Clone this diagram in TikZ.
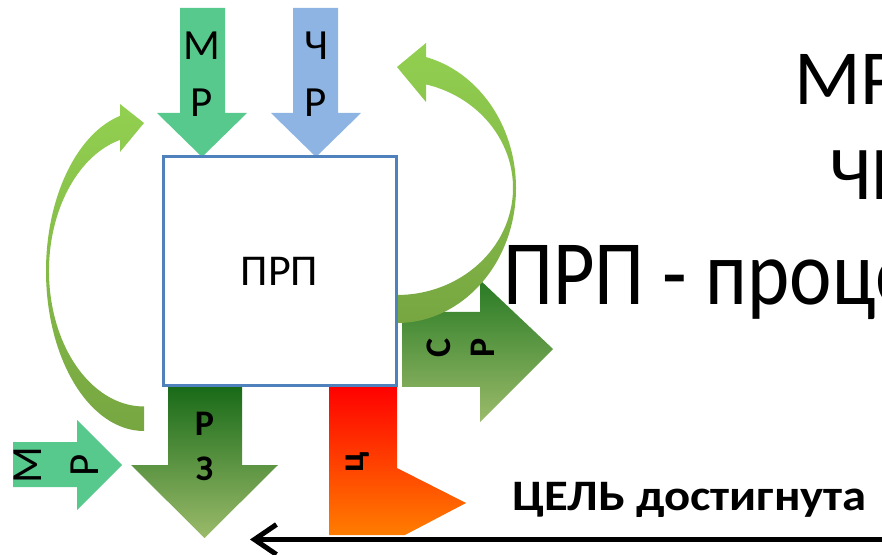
\documentclass[tikz,border=0pt]{standalone}
\usepackage{fontspec}
\setmainfont{Carlito}
\usetikzlibrary{arrows.meta}

\definecolor{mrgreen}{RGB}{87,201,141}
\definecolor{chblue}{RGB}{142,180,227}
\definecolor{boxblue}{RGB}{79,129,189}
\definecolor{curvelight}{RGB}{146,208,80}
\definecolor{curvedark}{RGB}{119,166,65}
\definecolor{rzdark}{RGB}{24,106,24}
\definecolor{rzlight}{RGB}{155,187,106}
\definecolor{srdark}{RGB}{40,122,36}
\definecolor{crred}{RGB}{255,0,0}
\definecolor{crorange}{RGB}{255,125,0}

\tikzset{
  lbl/.style={inner sep=0pt, align=center, font=\fontsize{43}{57}\selectfont},
  boldlbl/.style={inner sep=0pt, align=center, font=\bfseries\fontsize{36}{45}\selectfont},
  prpbox/.style={draw=boxblue, line width=3pt, minimum width=233pt, minimum height=229pt, inner sep=0pt, font=\fontsize{44}{50}\selectfont},
  bigtext/.style={anchor=base west, inner sep=0pt},
  goalline/.style={line width=5pt, -{Straight Barb[length=22pt,width=30pt]}},
}

\begin{document}
\begin{tikzpicture}[x=1pt,y=1pt]
\useasboundingbox (0,0) rectangle (882,554);
\clip (0,0) rectangle (882,554);
% MP, freccia in alto
\fill[mrgreen] (180,546) -- (225,546) -- (225,441) -- (247,441) -- (202,397) -- (157,441) -- (180,441) -- cycle;
\node[lbl] (mrtop) at (202,480) {М\\Р};
% ЧР, freccia in alto
\fill[chblue] (293,546) -- (338,546) -- (338,441) -- (361,441) -- (316,397) -- (271,441) -- (293,441) -- cycle;
\node[lbl] (chrtop) at (316,480) {Ч\\Р};
% freccia curva sinistra
\coordinate (lc) at (144,283);
\shade[top color=curvelight, bottom color=curvedark]
  ([shift={(lc)}]270:98 and 160) arc[start angle=270, end angle=103, x radius=98, y radius=160]
  -- ([shift={(lc)}]103:95 and 135.5) arc[start angle=103, end angle=270, x radius=95, y radius=135.5] -- cycle
  (120,450) -- (144,431) -- (120,402) -- cycle;
% СР, freccia a destra
\shade[top color=srdark, bottom color=rzlight] (402,242) -- (480,242) -- (480,274) -- (553,205) -- (480,132) -- (480,167) -- (402,167) -- cycle;
\node[boldlbl, rotate=90, font=\bfseries\fontsize{36}{44}\selectfont] (srlabel) at (461,206) {С\\Р};
% freccia curva destra
\coordinate (rc) at (397,366);
\shade[top color=curvelight, bottom color=curvedark]
  ([shift={(rc)}]270:119 and 135) arc[start angle=270, end angle=437, x radius=119, y radius=135]
  -- ([shift={(rc)}]77:116 and 107) arc[start angle=77, end angle=-90, x radius=116, y radius=107] -- cycle
  (426,511) -- (397,487) -- (426,452) -- cycle;
% РЗ, freccia in basso
\shade[top color=rzdark, bottom color=rzlight] (168,168) -- (242,168) -- (242,89) -- (278,89) -- (204.5,16) -- (131,89) -- (168,89) -- cycle;
\node[boldlbl] (rzlabel) at (204.5,108) {Р\\З};
% ц, freccia rossa
\shade[top color=crred, bottom color=crorange] (329,168) -- (397,168) -- (397,86) -- (466,51) -- (405,19) -- (329,19) -- cycle;
\node[boldlbl, rotate=90] (crlabel) at (358,92) {ц};
% MP, freccia in basso a sinistra
\fill[mrgreen] (13,112) -- (77,112) -- (77,134) -- (122,89) -- (77,44) -- (77,67) -- (13,67) -- cycle;
\node[lbl, rotate=90] (mrleft) at (56.5,89) {М\\Р};
% ПРП, riquadro
\node[prpbox] (prp) at (279.5,282.5) {ПРП};
% obiettivo
\coordinate (goalstart) at (892,14.5);
\coordinate (goalend) at (250,14.5);
\draw[goalline] (goalstart) -- (goalend);
\node[bigtext, xscale=1.12, font=\bfseries\fontsize{43.5}{48}\selectfont] (goaltext) at (512,44) {ЦЕЛЬ достигнута};
% testo a destra
\node[bigtext, font=\fontsize{78}{80}\selectfont] (title1) at (794,449) {МР};
\node[bigtext, font=\fontsize{76}{80}\selectfont] (title2) at (829,354) {ЧР};
\node[bigtext, xscale=0.874, font=\fontsize{92}{96}\selectfont] (title3) at (503,249) {ПРП - проце};
\end{tikzpicture}
\end{document}
